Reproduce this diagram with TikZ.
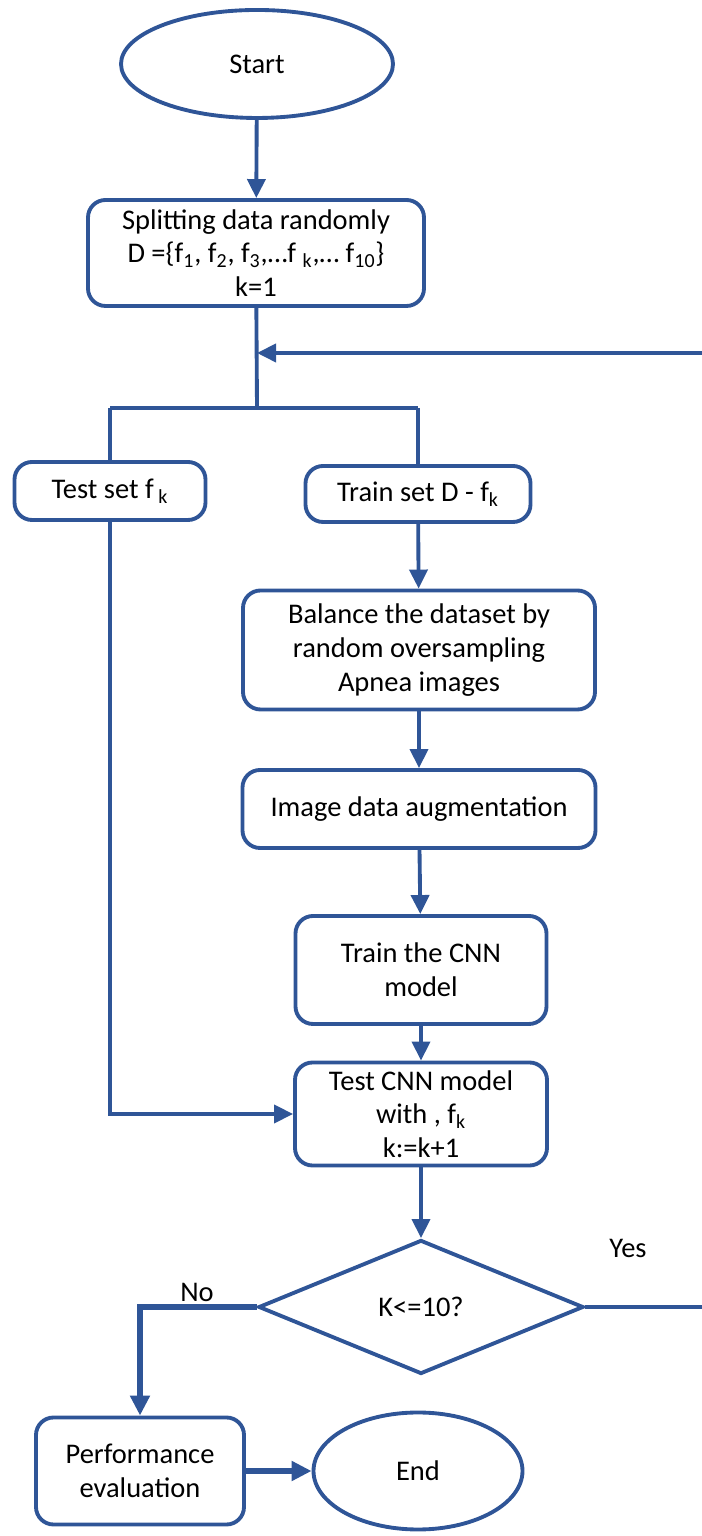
\documentclass[tikz,border=0pt]{standalone}
\usepackage{fontspec}
\setmainfont{Carlito}
\usetikzlibrary{arrows.meta,shapes.geometric}
\definecolor{flowblue}{RGB}{47,85,151}
\tikzset{
	every node/.style={font=\fontsize{16.2}{19.2}\selectfont, align=center, text=black},
	stepbox/.style={draw=flowblue, line width=2.2pt, rounded corners=0.35cm, inner sep=0},
	terminal/.style={draw=flowblue, line width=2.2pt, ellipse, inner sep=0},
	decision/.style={draw=flowblue, line width=2.2pt, diamond, inner sep=0, aspect=2.43},
	link/.style={draw=flowblue, line width=2.2pt},
	arrowlink/.style={link, -{Triangle[length=0.38cm,width=0.36cm]}},
	heavylink/.style={draw=flowblue, line width=3.6pt, -{Triangle[length=0.4cm,width=0.38cm]}}
}

\begin{document}
\begin{tikzpicture}
		%%%%% START %%%%%
		\useasboundingbox (0, 0) rectangle (14.04, 30.72);
		
		\node[terminal, minimum width=5.44cm, minimum height=2.16cm] (start) at (5.14, 29.44) {Start};
		\node[stepbox, minimum width=6.72cm, minimum height=2.12cm] (split) at (5.12, 25.66) {Splitting data randomly\\D =\{f\textsubscript{1}, f\textsubscript{2}, f\textsubscript{3},…f \textsubscript{k},… f\textsubscript{10}\}\\k=1};
		
		\coordinate (loopin) at (5.14, 23.66);
		\coordinate (loopedge) at (14.04, 23.66);
		\coordinate (fork) at (5.14, 22.56);
		\coordinate (forkleft) at (2.2, 22.56);
		\coordinate (forkright) at (8.36, 22.56);
		
		\node[stepbox, minimum width=3.82cm, minimum height=1.16cm] (testset) at (2.2, 20.9) {Test set f\,\textsubscript{k}};
		\node[stepbox, minimum width=4.5cm, minimum height=1.12cm] (trainset) at (8.36, 20.84) {Train set D - f\textsubscript{k}};
		\node[stepbox, minimum width=7.04cm, minimum height=2.38cm] (balance) at (8.38, 17.72) {Balance the dataset by\\random oversampling\\Apnea images};
		\node[stepbox, minimum width=7.06cm, minimum height=1.56cm] (augment) at (8.38, 14.54) {Image data augmentation};
		\node[stepbox, minimum width=5.02cm, minimum height=2.16cm] (traincnn) at (8.42, 11.32) {Train the CNN\\model};
		\node[stepbox, minimum width=5.04cm, minimum height=2.06cm] (testcnn) at (8.42, 8.44) {Test CNN model\\with , f\textsubscript{k}\\k:=k+1};
		
		\node[decision, minimum width=6.5cm, minimum height=2.68cm] (check) at (8.42, 4.58) {K<=10?};
		\coordinate (yesedge) at (14.04, 4.58);
		\coordinate (nocorner) at (2.8, 4.58);
		\node (yes) at (12.56, 5.76) {Yes};
		\node (no) at (3.94, 4.88) {No};
		
		\node[stepbox, minimum width=4.16cm, minimum height=2.14cm] (perf) at (2.8, 1.3) {Performance\\evaluation};
		\node[terminal, minimum width=4.18cm, minimum height=2.34cm] (end) at (8.36, 1.3) {End};
		
		\draw[arrowlink] (start) -- (split);
		\draw[link] (split) -- (fork);
		\draw[arrowlink] (loopedge) -- (loopin);
		\draw[link] (forkleft) -- (forkright);
		\draw[link] (forkleft) -- (testset);
		\draw[link] (forkright) -- (trainset);
		\draw[arrowlink] (trainset) -- (balance);
		\draw[arrowlink] (balance) -- (augment);
		\draw[arrowlink] (augment) -- (traincnn);
		\draw[arrowlink] (traincnn) -- (testcnn);
		\draw[arrowlink] (testset) |- (testcnn);
		\draw[arrowlink] (testcnn) -- (check);
		\draw[link] (check) -- (yesedge);
		\draw[heavylink] (check.west) -- (nocorner) -- (perf);
		\draw[heavylink] (perf) -- (end);
		%%%%% END %%%%%
	\end{tikzpicture}
\end{document}
